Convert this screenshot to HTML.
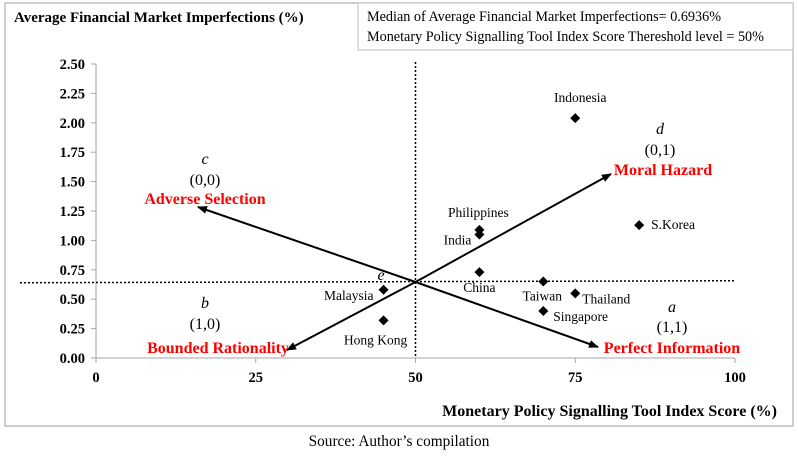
<!DOCTYPE html>
<html><head><meta charset="utf-8"><style>
body{margin:0;background:#fff;}
svg text{font-family:"Liberation Serif",serif;}
</style></head><body>
<svg width="798" height="453" xmlns="http://www.w3.org/2000/svg">
<defs><marker id="ar" markerWidth="10" markerHeight="8" refX="9" refY="4" orient="auto" markerUnits="userSpaceOnUse"><path d="M0,0 L10,4 L0,8 Z" fill="#000"/></marker></defs>
<rect x="5" y="3" width="788" height="423" fill="#fff" stroke="#bfbfbf" stroke-width="1.5"/>
<rect x="358" y="3" width="435" height="47" fill="#fff" stroke="#bfbfbf"/>
<text x="367" y="21" font-size="14.2">Median of Average Financial Market Imperfections= 0.6936%</text>
<text x="367" y="41" font-size="14.2">Monetary Policy Signalling  Tool Index Score  Thereshold level = 50%</text>
<text x="14" y="22" font-size="15" font-weight="bold">Average Financial Market Imperfections (%)</text>
<text x="777" y="416" font-size="16" font-weight="bold" text-anchor="end">Monetary Policy Signalling Tool Index Score (%)</text>
<text x="399" y="446" font-size="15.3" text-anchor="middle">Source: Author’s compilation</text>
<g id="axes"></g>
<g id="marks"></g>
<g font-size="16" text-anchor="middle">
<text x="205" y="164" font-style="italic">c</text>
<text x="205" y="185">(0,0)</text>
<text x="205" y="204" fill="#ff0000" font-weight="bold">Adverse Selection</text>
<text x="660" y="134" font-style="italic">d</text>
<text x="660" y="155">(0,1)</text>
<text x="663" y="175" fill="#ff0000" font-weight="bold">Moral Hazard</text>
<text x="205" y="308" font-style="italic">b</text>
<text x="205" y="329">(1,0)</text>
<text x="218" y="353" fill="#ff0000" font-weight="bold">Bounded Rationality</text>
<text x="672" y="312" font-style="italic">a</text>
<text x="672" y="332">(1,1)</text>
<text x="672" y="353" fill="#ff0000" font-weight="bold">Perfect Information</text>
<text x="381" y="280" font-style="italic">e</text>
</g>
</svg>
<script>
const countries=["Indonesia","S.Korea","Philippines","India","China","Taiwan","Thailand","Singapore","Malaysia","HongKong"];
const scores=[75,85,60,60,60,70,75,70,45,45];
const imperfections=[2.04,1.13,1.09,1.05,0.73,0.65,0.55,0.40,0.58,0.32];
const labelOffsets=[[5,-16,"middle"],[12,4,"start"],[-1,-13,"middle"],[-8,10,"end"],[0,20,"middle"],[-1,19,"middle"],[7,10,"start"],[10,10,"start"],[-10,10,"end"],[-8,24,"middle"]];
const yTicks=[0,0.25,0.5,0.75,1.0,1.25,1.5,1.75,2.0,2.25,2.5];
const xTicks=[0,25,50,75,100];
const medianY=0.64, thresholdX=50;
const NS="http://www.w3.org/2000/svg";
const X=v=>96+v*6.39, Y=v=>358-v*117.6;
function mk(t,a,p){const e=document.createElementNS(NS,t);for(const k in a)e.setAttribute(k,a[k]);p.appendChild(e);return e;}
const ax=document.getElementById('axes'), mg=document.getElementById('marks');
let l=mk('line',{x1:X(0),y1:Y(0),x2:X(100),y2:Y(0),stroke:'#a6a6a6'},ax);


l=mk('line',{x1:X(0),y1:Y(0),x2:X(0),y2:Y(2.5),stroke:'#a6a6a6'},ax);


yTicks.forEach(v=>{mk('line',{x1:X(0)-5,y1:Y(v),x2:X(0),y2:Y(v),stroke:'#a6a6a6'},ax);
const t=mk('text',{x:X(0)-11,y:Y(v)+5,'font-size':14.5,'font-weight':'bold','text-anchor':'end'},ax);t.textContent=v.toFixed(2);

});
xTicks.forEach(v=>{mk('line',{x1:X(v),y1:Y(0),x2:X(v),y2:Y(0)+5,stroke:'#a6a6a6'},ax);
const t=mk('text',{x:X(v),y:Y(0)+24,'font-size':14.5,'font-weight':'bold','text-anchor':'middle'},ax);t.textContent=v;

});
l=mk('line',{x1:20,y1:Y(medianY),x2:X(100),y2:Y(medianY)-2,stroke:'#000','stroke-width':1.5,'stroke-dasharray':'2,2'},mg);


l=mk('line',{x1:X(thresholdX),y1:62,x2:X(thresholdX),y2:Y(0),stroke:'#000','stroke-width':1.5,'stroke-dasharray':'2,2'},mg);


const cx=X(thresholdX), cy=282;
[[611,174,'arrow-moral-hazard'],[198,207,'arrow-adverse-selection'],[287,350,'arrow-bounded-rationality'],[598,347,'arrow-perfect-information']].forEach(a=>{
const e=mk('line',{x1:cx,y1:cy,x2:a[0],y2:a[1],stroke:'#000','stroke-width':2,'marker-end':'url(#ar)'},mg);

});
countries.forEach((c,i)=>{const x=X(scores[i]),y=Y(imperfections[i]);
const p=mk('path',{d:`M${x},${y-5}L${x+5},${y}L${x},${y+5}L${x-5},${y}Z`,fill:'#000'},mg);


const o=labelOffsets[i];const t=mk('text',{x:x+o[0],y:y+o[1],'font-size':13.5,'text-anchor':o[2]},mg);t.textContent=c==="HongKong"?"Hong Kong":c;

});
</script>
</body></html>
